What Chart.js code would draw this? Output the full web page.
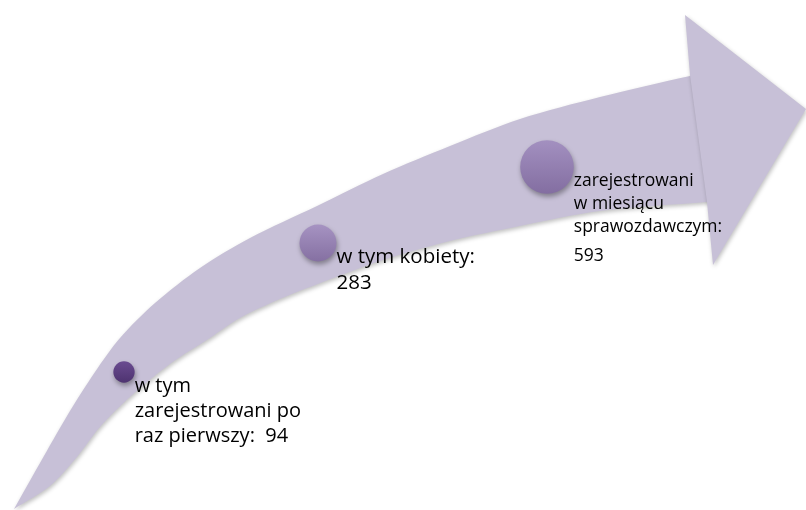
<!DOCTYPE html>
<html>
<head>
<meta charset="utf-8">
<script src="https://cdn.jsdelivr.net/npm/chart.js@4.4.1/dist/chart.umd.min.js"></script>
<style>
  body { margin: 0; background: #fff; }
  #wrap { width: 806px; height: 510px; }
</style>
</head>
<body>
<div id="wrap"><canvas id="myChart"></canvas></div>
<script>
// data
const categories = [
    ['w tym', 'zarejestrowani po', 'raz pierwszy:'],
    ['w tym kobiety:'],
    ['zarejestrowani', 'w miesiącu', 'sprawozdawczym:']
];
const values = [94, 283, 593];

// layout (pixel space, x 0..806, y 0..510 from top)
const bubbleCenters = [[124, 372], [318, 243], [547, 167]];
const shaftOuter = [[14, 509], [40, 463], [67, 416], [95, 372], [120, 338], [155, 303],
    [200, 268], [250, 238], [317, 206], [383, 174], [450, 146], [520, 119],
    [600, 97], [690, 76], [740, 66], [745, 130]];
const shaftInner = [[740, 200], [707, 202], [600, 211], [520, 226], [450, 241], [383, 260],
    [318, 284], [280, 299], [240, 318], [210, 338], [170, 364], [130, 397], [100, 427],
    [77, 457], [50, 486], [14, 509]];
const headOutline = [[685, 15], [806, 109], [713, 265], [707, 202], [690, 75], [685, 15]];

const valueInline = [true, false, false];
const fontSizes = [20, 20.5, 17.5];
const lineHeights = [25, 26, 23];
const valueGap = [0, 0, 6];

const arrowColor = '#c7c0d7';
const bubbleTop = ['#6a4b90', '#a693c2', '#a390c0'];
const bubbleBottom = ['#4e3370', '#8570a2', '#836ea1'];

const toPts = arr => arr.map(p => ({ x: p[0], y: p[1] }));

const shadowPlugin = {
    id: 'shadows',
    beforeDraw(chart) {
        const ctx = chart.ctx;
        ctx.save();
        ctx.shadowColor = 'rgba(0,0,0,0.25)';
        ctx.shadowBlur = 4;
        ctx.shadowOffsetX = 1;
        ctx.shadowOffsetY = 2;
    },
    beforeDatasetsDraw(chart) {
        chart.ctx.restore();
    },
    beforeDatasetDraw(chart, args) {
        if (args.index !== 2) return;
        const ctx = chart.ctx;
        ctx.save();
        ctx.shadowColor = 'rgba(0,0,0,0.35)';
        ctx.shadowBlur = 5;
        ctx.shadowOffsetX = 1;
        ctx.shadowOffsetY = 3;
    },
    afterDatasetDraw(chart, args) {
        if (args.index !== 2) return;
        chart.ctx.restore();
    }
};

const labelPlugin = {
    id: 'bubbleLabels',
    afterDatasetsDraw(chart) {
        const ctx = chart.ctx;
        const meta = chart.getDatasetMeta(2);
        meta.data.forEach((pt, i) => {
            const r = pt.options.radius;
            const lines = categories[i].slice();
            if (valueInline[i]) lines[lines.length - 1] += '  ' + values[i];
            else lines.push(String(values[i]));
            ctx.save();
            ctx.font = fontSizes[i] + 'px "Open Sans"';
            ctx.fillStyle = '#000';
            ctx.textBaseline = 'middle';
            lines.forEach((t, k) => {
                let y = pt.y + 14 + k * lineHeights[i];
                if (!valueInline[i] && k === lines.length - 1) y += valueGap[i];
                ctx.fillText(t, pt.x + r, y);
            });
            ctx.restore();
        });
    }
};

const ctx = document.getElementById('myChart').getContext('2d');
const myChart = new Chart(ctx, {
    type: 'scatter',
    data: {
        datasets: [
            {
                type: 'line',
                data: toPts(shaftOuter.concat(shaftInner)),
                showLine: true,
                tension: 0.3,
                borderWidth: 0,
                borderColor: 'rgba(0,0,0,0)',
                backgroundColor: arrowColor,
                pointRadius: 0,
                fill: 'shape',
                clip: false,
                order: 2
            },
            {
                type: 'line',
                data: toPts(headOutline),
                showLine: true,
                tension: 0,
                borderWidth: 0,
                borderColor: 'rgba(0,0,0,0)',
                backgroundColor: arrowColor,
                pointRadius: 0,
                fill: 'shape',
                order: 1
            },
            {
                type: 'bubble',
                data: values.map((v, i) => ({
                    x: bubbleCenters[i][0],
                    y: bubbleCenters[i][1],
                    r: Math.sqrt(v) * 1.1
                })),
                borderWidth: 0,
                backgroundColor: (c) => {
                    const chart = c.chart;
                    if (!chart.chartArea || !c.raw) return bubbleTop[0];
                    const cy = chart.scales.y.getPixelForValue(c.raw.y);
                    const g = chart.ctx.createLinearGradient(0, cy - c.raw.r, 0, cy + c.raw.r);
                    g.addColorStop(0, bubbleTop[c.dataIndex]);
                    g.addColorStop(1, bubbleBottom[c.dataIndex]);
                    return g;
                },
                clip: false,
                order: 0
            }
        ]
    },
    options: {
        responsive: true,
        maintainAspectRatio: false,
        animation: false,
        events: [],
        layout: { padding: 0, autoPadding: false },
        scales: {
            x: { type: 'linear', min: 0, max: 806, display: false },
            y: { type: 'linear', min: 0, max: 510, reverse: true, display: false }
        },
        plugins: {
            legend: { display: false },
            tooltip: { enabled: false },
            filler: { drawTime: 'beforeDatasetsDraw' }
        }
    },
    plugins: [shadowPlugin, labelPlugin]
});
</script>
</body>
</html>
